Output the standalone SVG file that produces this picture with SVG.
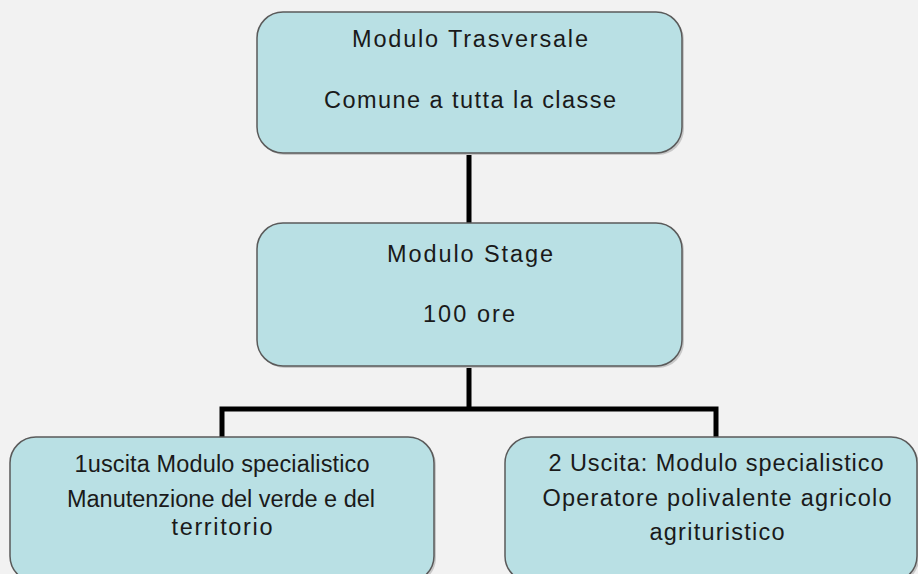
<svg xmlns="http://www.w3.org/2000/svg" width="918" height="574" viewBox="0 0 918 574">
<defs>
<style>
.box{fill:#b9e0e4;stroke:#5a5a5a;stroke-width:1.5}
.sh{fill:#c8c8c8}
.t{font-family:"Liberation Sans",Arial,sans-serif;font-size:23.5px;fill:#1a1a1a;text-anchor:middle}
.c{fill:none;stroke:#000;stroke-width:5}
</style>
</defs>
<rect width="918" height="574" fill="#f2f2f2"/>
<g id="connectors">
<line class="c" x1="469" y1="152" x2="469" y2="224"/>
<polyline class="c" points="222,438 222,409 716,409 716,438"/>
<line class="c" x1="469" y1="366" x2="469" y2="409"/>
</g>
<g id="node-trasversale">
<rect class="sh" x="259" y="14" width="425" height="141" rx="26"/>
<rect class="box" x="257" y="12" width="425" height="141" rx="26"/>
<text class="t" x="470" y="47" textLength="236" lengthAdjust="spacing">Modulo Trasversale</text>
<text class="t" x="470" y="108" textLength="292" lengthAdjust="spacing">Comune a tutta la classe</text>
</g>
<g id="node-stage">
<rect class="sh" x="259" y="225" width="425" height="143" rx="26"/>
<rect class="box" x="257" y="223" width="425" height="143" rx="26"/>
<text class="t" x="470" y="262" textLength="166" lengthAdjust="spacing">Modulo Stage</text>
<text class="t" x="469" y="322" textLength="92" lengthAdjust="spacing">100 ore</text>
</g>
<g id="node-uscita1">
<rect class="sh" x="12" y="439" width="424" height="145" rx="26"/>
<rect class="box" x="10" y="437" width="424" height="145" rx="26"/>
<text class="t" x="222" y="472" textLength="295" lengthAdjust="spacing">1uscita Modulo specialistico</text>
<text class="t" x="221" y="507" textLength="308" lengthAdjust="spacing">Manutenzione del verde e del</text>
<text class="t" x="222" y="535" textLength="101" lengthAdjust="spacing">territorio</text>
</g>
<g id="node-uscita2">
<rect class="sh" x="507" y="439" width="412" height="145" rx="26"/>
<rect class="box" x="505" y="437" width="412" height="145" rx="26"/>
<text class="t" x="716" y="471" textLength="335" lengthAdjust="spacing">2 Uscita: Modulo specialistico</text>
<text class="t" x="717" y="506" textLength="349" lengthAdjust="spacing">Operatore polivalente agricolo</text>
<text class="t" x="717" y="540" textLength="135" lengthAdjust="spacing">agrituristico</text>
</g>
</svg>
